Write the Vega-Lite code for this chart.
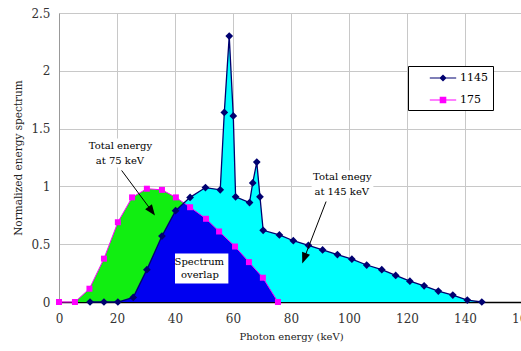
{
  "$schema": "https://vega.github.io/schema/vega-lite/v6.json",
  "width": 462,
  "height": 289,
  "autosize": {"type": "none"},
  "padding": {"left": 59, "top": 13, "right": 0, "bottom": 49},
  "background": "white",
  "config": {
    "view": {"stroke": null},
    "font": "DejaVu Serif"
  },
  "datasets": {
    "spectra": [
      {"series": "1145", "keV": 10.7, "value": 0},
      {"series": "1145", "keV": 15.5, "value": 0},
      {"series": "1145", "keV": 20.3, "value": 0},
      {"series": "1145", "keV": 25.6, "value": 0.04},
      {"series": "1145", "keV": 30.3, "value": 0.28},
      {"series": "1145", "keV": 35.5, "value": 0.57},
      {"series": "1145", "keV": 40.2, "value": 0.79},
      {"series": "1145", "keV": 45.2, "value": 0.905},
      {"series": "1145", "keV": 50.5, "value": 0.99},
      {"series": "1145", "keV": 55.6, "value": 0.97},
      {"series": "1145", "keV": 57.0, "value": 1.64},
      {"series": "1145", "keV": 58.7, "value": 2.3},
      {"series": "1145", "keV": 60.1, "value": 1.61},
      {"series": "1145", "keV": 60.9, "value": 0.91},
      {"series": "1145", "keV": 65.7, "value": 0.86},
      {"series": "1145", "keV": 66.8, "value": 1.03},
      {"series": "1145", "keV": 68.2, "value": 1.21},
      {"series": "1145", "keV": 69.3, "value": 0.91},
      {"series": "1145", "keV": 70.4, "value": 0.62},
      {"series": "1145", "keV": 76.0, "value": 0.58},
      {"series": "1145", "keV": 80.8, "value": 0.53},
      {"series": "1145", "keV": 86.0, "value": 0.49},
      {"series": "1145", "keV": 90.9, "value": 0.45},
      {"series": "1145", "keV": 96.0, "value": 0.41},
      {"series": "1145", "keV": 101.0, "value": 0.37},
      {"series": "1145", "keV": 106.1, "value": 0.32},
      {"series": "1145", "keV": 111.3, "value": 0.28},
      {"series": "1145", "keV": 116.1, "value": 0.23},
      {"series": "1145", "keV": 121.0, "value": 0.18},
      {"series": "1145", "keV": 125.9, "value": 0.14},
      {"series": "1145", "keV": 130.8, "value": 0.095},
      {"series": "1145", "keV": 135.8, "value": 0.06},
      {"series": "1145", "keV": 140.8, "value": 0.017},
      {"series": "1145", "keV": 145.8, "value": 0},
      {"series": "175", "keV": 0, "value": 0},
      {"series": "175", "keV": 5.5, "value": 0},
      {"series": "175", "keV": 10.5, "value": 0.115},
      {"series": "175", "keV": 15.5, "value": 0.375},
      {"series": "175", "keV": 20.3, "value": 0.69},
      {"series": "175", "keV": 25.2, "value": 0.905},
      {"series": "175", "keV": 30.3, "value": 0.98},
      {"series": "175", "keV": 35.5, "value": 0.97},
      {"series": "175", "keV": 40.3, "value": 0.905},
      {"series": "175", "keV": 45.2, "value": 0.82},
      {"series": "175", "keV": 50.7, "value": 0.72},
      {"series": "175", "keV": 55.2, "value": 0.61},
      {"series": "175", "keV": 60.7, "value": 0.48},
      {"series": "175", "keV": 65.5, "value": 0.345},
      {"series": "175", "keV": 70.3, "value": 0.21},
      {"series": "175", "keV": 75.5, "value": 0}
    ],
    "overlap": [
      {"keV": 10.7, "value": 0},
      {"keV": 15.5, "value": 0},
      {"keV": 20.3, "value": 0},
      {"keV": 25.6, "value": 0.04},
      {"keV": 30.3, "value": 0.28},
      {"keV": 35.5, "value": 0.57},
      {"keV": 40.2, "value": 0.79},
      {"keV": 43.1, "value": 0.856},
      {"keV": 45.2, "value": 0.82},
      {"keV": 50.7, "value": 0.72},
      {"keV": 55.2, "value": 0.61},
      {"keV": 60.7, "value": 0.48},
      {"keV": 65.5, "value": 0.345},
      {"keV": 70.3, "value": 0.21},
      {"keV": 75.5, "value": 0}
    ],
    "boxes": [
      {"keV": 10.0, "keV2": 32.4, "value": 1.414, "value2": 1.164},
      {"keV": 87.1, "keV2": 108.4, "value": 1.138, "value2": 0.897},
      {"keV": 40.0, "keV2": 58.4, "value": 0.42, "value2": 0.161}
    ],
    "notes": [
      {"text": "Total energy", "keV": 21.2, "value": 1.349},
      {"text": "at 75 keV", "keV": 21.0, "value": 1.217},
      {"text": "Total enegy", "keV": 97.7, "value": 1.078},
      {"text": "at 145 keV", "keV": 97.5, "value": 0.951},
      {"text": "Spectrum", "keV": 48.4, "value": 0.347},
      {"text": "overlap", "keV": 48.6, "value": 0.233}
    ],
    "arrows": [
      {"arrow": "75", "keV": 21.6, "value": 1.138, "keV2": 31.86, "value2": 0.791},
      {"arrow": "145", "keV": 92.1, "value": 0.869, "keV2": 84.6, "value2": 0.382}
    ]
  },
  "encoding": {
    "x": {
      "field": "keV",
      "type": "quantitative",
      "scale": {"domain": [0, 160], "range": [0, 464], "nice": false, "zero": false},
      "axis": {
        "title": "Photon energy (keV)",
        "values": [0, 20, 40, 60, 80, 100, 120, 140, 160],
        "grid": true,
        "gridColor": "#c8c8c8",
        "gridWidth": 1,
        "ticks": false,
        "domainColor": "#000000",
        "domainWidth": 1.3,
        "labelFont": "DejaVu Serif",
        "labelFontSize": 12,
        "labelColor": "#333333",
        "labelPadding": 11,
        "labelFlush": false,
        "labelOverlap": false,
        "titleFont": "DejaVu Serif",
        "titleFontSize": 10,
        "titleFontWeight": "normal",
        "titleColor": "#222222",
        "titlePadding": 7
      }
    },
    "y": {
      "field": "value",
      "type": "quantitative",
      "scale": {"domain": [0, 2.5], "nice": false},
      "axis": {
        "title": "Normalized energy spectrum",
        "values": [0, 0.5, 1, 1.5, 2, 2.5],
        "format": "~g",
        "grid": true,
        "gridColor": "#c8c8c8",
        "gridWidth": 1,
        "ticks": false,
        "domainColor": "#999999",
        "labelFont": "DejaVu Serif",
        "labelFontSize": 12,
        "labelColor": "#333333",
        "labelPadding": 9,
        "labelFlush": false,
        "titleFont": "DejaVu Serif",
        "titleFontSize": 10.5,
        "titleFontWeight": "normal",
        "titleColor": "#222222",
        "titlePadding": 7
      }
    }
  },
  "layer": [
    {
      "data": {"name": "spectra"},
      "transform": [{"filter": "datum.series === '1145'"}],
      "mark": {"type": "area", "color": "#00ffff", "opacity": 1}
    },
    {
      "data": {"name": "spectra"},
      "transform": [{"filter": "datum.series === '175'"}],
      "mark": {"type": "area", "color": "#11ee11", "opacity": 1}
    },
    {
      "data": {"name": "overlap"},
      "mark": {"type": "area", "color": "#0000f0", "opacity": 1}
    },
    {
      "data": {"name": "boxes"},
      "mark": {"type": "rect", "color": "#ffffff", "opacity": 1},
      "encoding": {
        "x2": {"field": "keV2"},
        "y2": {"field": "value2"}
      }
    },
    {
      "data": {"name": "spectra"},
      "transform": [{"filter": "datum.series === '175'"}],
      "mark": {"type": "line", "color": "#ff00ff", "strokeWidth": 1}
    },
    {
      "data": {"name": "spectra"},
      "transform": [{"filter": "datum.series === '175'"}],
      "mark": {"type": "point", "shape": "square", "filled": true, "color": "#ff00ff", "size": 36, "opacity": 1}
    },
    {
      "data": {"name": "spectra"},
      "transform": [{"filter": "datum.series === '1145'"}],
      "mark": {"type": "line", "color": "#000070", "strokeWidth": 1.3}
    },
    {
      "data": {"name": "spectra"},
      "transform": [{"filter": "datum.series === '1145'"}],
      "mark": {"type": "point", "shape": "diamond", "filled": true, "color": "#000070", "size": 60, "opacity": 1}
    },
    {
      "data": {"name": "spectra"},
      "mark": {"type": "point", "filled": true, "opacity": 0},
      "encoding": {
        "color": {
          "field": "series", "type": "nominal",
          "scale": {"domain": ["1145", "175"], "range": ["#000070", "#ff00ff"]},
          "legend": {
            "orient": "none", "legendX": 349, "legendY": 53, "title": null,
            "strokeColor": "#000000", "fillColor": "#ffffff", "padding": 5,
            "symbolSize": 144, "symbolOffset": 23,
            "rowPadding": 10, "labelOffset": 10,
            "labelFont": "DejaVu Serif", "labelFontSize": 11, "labelColor": "#000000",
            "labelExpr": "pad(datum.label, 9, '\u00a0')",
            "encode": {"symbols": {"update": {"opacity": {"value": 1}, "fillOpacity": {"value": 1}}}}
          }
        },
        "shape": {
          "field": "series", "type": "nominal",
          "scale": {
            "domain": ["1145", "175"],
            "range": [
              "M-2.2,-0.09H2.2V0.09H-2.2ZM0,-0.6L0.6,0L0,0.6L-0.6,0Z",
              "M-2.2,-0.09H2.2V0.09H-2.2ZM-0.55,-0.55H0.55V0.55H-0.55Z"
            ]
          },
          "legend": {
            "orient": "none", "legendX": 349, "legendY": 53, "title": null,
            "strokeColor": "#000000", "fillColor": "#ffffff", "padding": 5,
            "symbolSize": 144, "symbolOffset": 23,
            "rowPadding": 10, "labelOffset": 10,
            "labelFont": "DejaVu Serif", "labelFontSize": 11, "labelColor": "#000000",
            "labelExpr": "pad(datum.label, 9, '\u00a0')",
            "encode": {"symbols": {"update": {"opacity": {"value": 1}, "fillOpacity": {"value": 1}}}}
          }
        }
      }
    },
    {
      "data": {"name": "arrows"},
      "mark": {"type": "rule", "color": "#000000", "strokeWidth": 1},
      "encoding": {
        "x2": {"field": "keV2"},
        "y2": {"field": "value2"}
      }
    },
    {
      "data": {"name": "arrows"},
      "transform": [{"filter": "datum.arrow === '75'"}],
      "mark": {"type": "point", "shape": "M0,-1L-0.7,0.8L0.7,0.8Z", "filled": true, "color": "#000000", "size": 144, "angle": 143.5, "opacity": 1},
      "encoding": {
        "x": {"field": "keV2", "type": "quantitative"},
        "y": {"field": "value2", "type": "quantitative"}
      }
    },
    {
      "data": {"name": "arrows"},
      "transform": [{"filter": "datum.arrow === '145'"}],
      "mark": {"type": "point", "shape": "M0,-1L-0.7,0.8L0.7,0.8Z", "filled": true, "color": "#000000", "size": 144, "angle": 200.8, "opacity": 1},
      "encoding": {
        "x": {"field": "keV2", "type": "quantitative"},
        "y": {"field": "value2", "type": "quantitative"}
      }
    },
    {
      "data": {"name": "notes"},
      "mark": {"type": "text", "font": "DejaVu Serif", "fontSize": 10, "color": "#000000", "align": "center", "baseline": "middle"},
      "encoding": {
        "text": {"field": "text", "type": "nominal"}
      }
    }
  ]
}
